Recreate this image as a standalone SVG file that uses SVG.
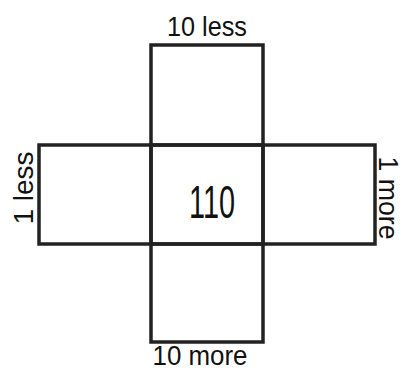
<svg xmlns="http://www.w3.org/2000/svg" width="402" height="371" viewBox="0 0 402 371">
<style>
.box{fill:none;stroke:#222;stroke-width:3.5}
.t{font-family:"Liberation Sans","DejaVu Sans Condensed",sans-serif;fill:#111}
.l{font-size:27px}
</style>
<rect width="402" height="371" fill="#fff"/>
<g id="top"><rect class="box" x="151" y="45" width="112" height="100"/></g>
<g id="left"><rect class="box" x="39" y="145" width="112" height="99"/></g>
<g id="center"><rect class="box" x="151" y="145" width="112" height="99"/>
<text class="t" x="212" y="218" font-size="46" text-anchor="middle" textLength="46" lengthAdjust="spacingAndGlyphs">110</text></g>
<g id="right"><rect class="box" x="263" y="145" width="112" height="99"/></g>
<g id="bottom"><rect class="box" x="151" y="244" width="112" height="98"/></g>
<g id="labels">
<text class="t l" x="207" y="36" text-anchor="middle" textLength="80" lengthAdjust="spacingAndGlyphs">10 less</text>
<text class="t l" x="200" y="365" text-anchor="middle" textLength="95" lengthAdjust="spacingAndGlyphs">10 more</text>
<text class="t l" transform="translate(33 188) rotate(-90)" text-anchor="middle" textLength="73" lengthAdjust="spacingAndGlyphs">1 less</text>
<text class="t l" transform="translate(379 198) rotate(90)" text-anchor="middle" textLength="83" lengthAdjust="spacingAndGlyphs">1 more</text>
</g>
</svg>
